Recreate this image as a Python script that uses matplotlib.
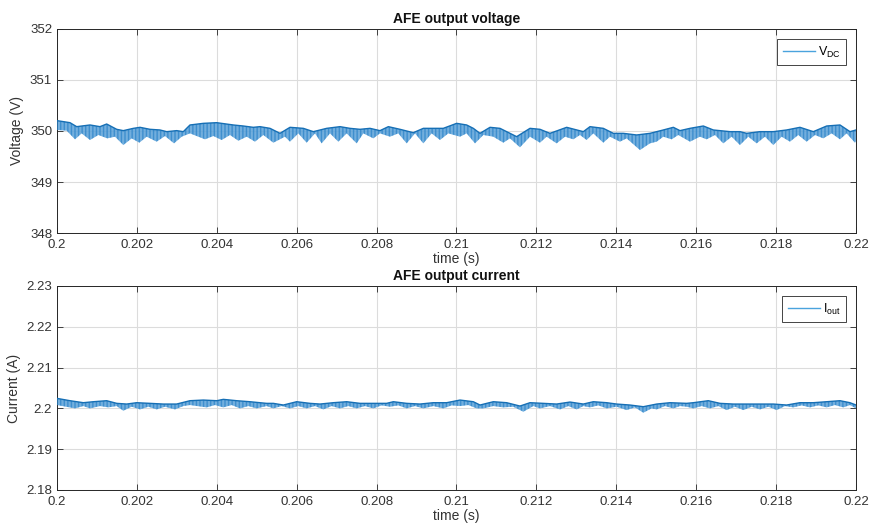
import numpy as np
import matplotlib
matplotlib.use("Agg")
import matplotlib.pyplot as plt
from matplotlib.lines import Line2D

plt.rcParams['font.family'] = ['Liberation Sans', 'DejaVu Sans']
plt.rcParams['hatch.linewidth'] = 0.6

T0 = 0.2
# ---------------- AFE output voltage (envelope) ----------
vdc_up_t_ms = [0.000,0.325,0.492,0.826,1.076,1.243,1.494,1.660,1.911,2.078,2.328,2.578,2.745,2.995,3.162,
               3.329,3.663,3.997,4.414,4.664,4.914,5.081,5.332,5.582,5.832,6.166,6.416,6.750,7.084,7.334,
               7.585,7.835,8.085,8.294,8.586,8.919,9.170,9.420,9.670,10.004,10.254,10.421,10.588,10.839,11.089,
               11.506,11.840,12.090,12.340,12.758,13.175,13.342,13.675,13.926,14.176,14.510,14.843,15.177,15.428,15.594,
               15.845,16.179,16.429,16.846,17.096,17.263,17.597,17.931,18.264,18.598,18.932,19.266,19.600,19.850,20.000]
vdc_up_v = [350.203,350.163,350.085,350.118,350.085,350.137,350.033,350.007,350.052,350.072,350.033,350.020,349.987,350.007,349.987,
            350.118,350.150,350.163,350.118,350.098,350.072,350.085,350.052,349.954,350.072,350.052,349.987,350.052,350.085,350.052,
            350.033,350.052,350.007,350.085,350.033,349.967,350.052,350.052,350.052,350.150,350.118,350.052,349.954,350.072,350.052,
            349.889,350.052,350.033,349.954,350.072,349.987,350.085,350.052,349.954,349.954,349.922,349.954,350.020,350.072,350.007,
            350.052,350.098,350.020,349.987,349.987,349.954,349.987,349.987,350.020,350.072,349.987,350.098,350.118,349.987,350.020]

vdc_lo_t_ms = [0.000,0.242,0.451,0.617,0.826,1.035,1.260,1.452,1.660,1.869,2.061,2.244,2.495,2.703,2.929,3.121,
               3.329,3.705,3.913,4.122,4.330,4.539,4.748,4.956,5.165,5.415,5.707,5.832,6.041,6.249,6.458,6.625,
               6.834,7.042,7.251,7.501,7.668,7.918,8.085,8.335,8.544,8.753,8.961,9.170,9.378,9.587,9.796,10.088,
               10.254,10.463,10.672,10.922,11.172,11.339,11.589,11.840,12.090,12.257,12.507,12.716,12.924,13.091,13.258,13.425,
               13.675,13.842,14.092,14.259,14.593,14.843,15.011,15.177,15.386,15.552,15.845,16.095,16.262,16.471,16.679,16.888,
               17.096,17.305,17.514,17.722,17.931,18.139,18.348,18.556,18.765,18.974,19.182,19.391,19.600,19.766,19.975,20.000]
vdc_lo_v = [350.020,350.007,349.837,349.954,349.824,349.922,349.856,349.889,349.725,349.856,349.771,349.889,349.791,349.902,349.758,349.889,
            349.954,349.837,349.902,349.824,349.922,349.810,349.889,349.791,349.922,349.771,349.889,349.791,349.954,349.771,349.954,349.758,
            349.954,349.791,349.954,349.758,349.954,349.856,349.954,349.889,349.954,349.758,349.954,349.758,349.954,349.824,349.954,349.889,
            349.954,349.758,349.922,349.889,349.771,349.856,349.680,349.889,349.771,349.889,349.758,349.889,349.837,349.922,349.824,349.954,
            349.771,349.889,349.791,349.856,349.627,349.758,349.791,349.889,349.837,349.922,349.791,349.889,349.837,349.922,349.758,349.889,
            349.725,349.889,349.758,349.889,349.725,349.889,349.791,349.922,349.791,349.922,349.856,349.954,349.837,349.954,349.771,349.800]

# ---------------- AFE output current (envelope) ----------
cur_up_t_ms = [0.000,0.325,0.659,0.909,1.243,1.494,1.744,1.994,2.328,2.662,2.995,3.329,3.663,3.997,4.163,4.497,4.831,
               5.248,5.415,5.666,5.999,6.333,6.583,6.917,7.251,7.585,7.918,8.252,8.419,8.753,9.086,9.420,9.754,
               10.088,10.421,10.588,10.922,11.256,11.589,11.840,12.174,12.507,12.841,13.175,13.425,13.759,14.009,14.343,14.676,
               15.011,15.344,15.761,15.928,16.304,16.596,16.929,17.263,17.597,17.931,18.264,18.598,18.932,19.266,19.600,19.850,20.000]
cur_up_v = [2.20245,2.20188,2.20139,2.20163,2.20188,2.20123,2.20106,2.20139,2.20123,2.20106,2.20106,2.20188,2.20204,2.20188,2.20221,2.20188,2.20163,
            2.20123,2.20123,2.20082,2.20163,2.20123,2.20106,2.20139,2.20163,2.20123,2.20123,2.20123,2.20163,2.20123,2.20106,2.20139,2.20139,
            2.20204,2.20163,2.20082,2.20163,2.20139,2.20057,2.20139,2.20123,2.20106,2.20155,2.20106,2.20163,2.20139,2.20106,2.20082,2.20041,
            2.20106,2.20139,2.20123,2.20139,2.20188,2.20123,2.20106,2.20106,2.20106,2.20106,2.20082,2.20139,2.20139,2.20163,2.20188,2.20139,2.20082]

cur_lo_t_ms = [0.000,0.451,0.659,0.826,1.076,1.285,1.494,1.660,1.869,2.078,2.286,2.495,2.703,2.954,3.162,3.329,3.747,3.955,
               4.163,4.372,4.581,4.789,4.998,5.248,5.415,5.624,5.832,6.041,6.249,6.458,6.667,6.875,7.084,7.292,7.501,7.710,
               7.918,8.127,8.335,8.544,8.753,8.961,9.170,9.420,9.670,9.879,10.088,10.296,10.505,10.672,10.922,11.172,11.422,11.673,
               11.923,12.090,12.340,12.591,12.799,13.008,13.175,13.342,13.550,13.759,14.009,14.259,14.468,14.676,14.885,15.011,15.219,15.428,
               15.594,15.761,15.928,16.137,16.345,16.554,16.763,16.971,17.180,17.389,17.597,17.806,18.014,18.223,18.431,18.640,18.848,19.057,
               19.266,19.474,19.683,19.850,20.000]
cur_lo_v = [2.20082,2.20000,2.20057,2.20000,2.20057,2.20025,2.20057,2.19943,2.20041,2.19975,2.20041,2.19975,2.20041,2.19975,2.20057,2.20082,2.20025,2.20082,
            2.20025,2.20082,2.20000,2.20057,2.20000,2.20057,2.20000,2.20057,2.20000,2.20057,2.20000,2.20057,2.19975,2.20057,2.20000,2.20057,2.20000,2.20057,
            2.20000,2.20074,2.20041,2.20074,2.20000,2.20057,2.20000,2.20057,2.20000,2.20074,2.20057,2.20082,2.20000,2.20000,2.20057,2.20025,2.20041,2.19918,
            2.20057,2.20000,2.20057,2.19975,2.20057,2.19975,2.20057,2.20025,2.20074,2.20000,2.20041,2.19959,2.20025,2.19894,2.20000,2.19975,2.20057,2.20000,
            2.20057,2.20041,2.20000,2.20057,2.20000,2.20057,2.19959,2.20041,2.19959,2.20041,2.19975,2.20041,2.19959,2.20057,2.20025,2.20074,2.20025,2.20074,
            2.20025,2.20082,2.20025,2.20082,2.20000]

x_ticks = [0.2, 0.202, 0.204, 0.206, 0.208, 0.21, 0.212, 0.214, 0.216, 0.218, 0.22]
x_ticklabels = ['0.2', '0.202', '0.204', '0.206', '0.208', '0.21', '0.212', '0.214', '0.216', '0.218', '0.22']
v_ticks = [348, 349, 350, 351, 352]
i_ticks = [2.18, 2.19, 2.2, 2.21, 2.22, 2.23]
i_ticklabels = ['2.18', '2.19', '2.2', '2.21', '2.22', '2.23']

FILL = '#99c8ec'
HATCH = '#2a82c8'
TOP = '#166fb5'
LEG = '#4aa3dd'
AXC = '#262626'

fig = plt.figure(figsize=(8.73, 5.28), dpi=100)
ax1 = fig.add_axes([0.0653, 0.5587, 0.9152, 0.3864])
ax2 = fig.add_axes([0.0653, 0.0720, 0.9152, 0.3864])


def band(ax, ut, uv, lt, lv):
    ut = T0 + np.asarray(ut) / 1000.0
    lt = T0 + np.asarray(lt) / 1000.0
    px = np.concatenate([ut, lt[::-1]])
    py = np.concatenate([uv, lv[::-1]])
    ax.fill(px, py, facecolor=FILL, edgecolor='none', alpha=0.8, zorder=2)
    ax.fill(px, py, facecolor='none', edgecolor=HATCH, lw=0, hatch='|' * 12, zorder=3)
    ax.plot(ut, uv, color=TOP, lw=1.0, zorder=4)


def style(ax, title, ylabel, yticks, ylabels, leglabel):
    ax.set_xlim(0.2, 0.22)
    ax.set_xticks(x_ticks)
    ax.set_xticklabels(x_ticklabels)
    ax.set_yticks(yticks)
    if ylabels is not None:
        ax.set_yticklabels(ylabels)
    ax.grid(True, color='#dcdcdc', lw=0.8, zorder=0)
    ax.set_axisbelow(True)
    ax.tick_params(direction='in', length=4, width=0.6, colors=AXC, labelsize=9.5,
                   top=True, right=True, labelcolor='#333333')
    ax.tick_params(axis='x', pad=4)
    for s in ax.spines.values():
        s.set_color(AXC)
        s.set_linewidth(0.7)
    ax.set_title(title, fontsize=10, fontweight='bold', color='#111111', pad=4)
    ax.set_xlabel('time (s)', fontsize=10, color='#333333', labelpad=1)
    ax.set_ylabel(ylabel, fontsize=10, color='#333333', labelpad=4)
    h = Line2D([], [], color=LEG, lw=1.0)
    leg = ax.legend([h], [leglabel], loc='upper right', fancybox=False, framealpha=1,
                    edgecolor=AXC, fontsize=9, handlelength=2.6, borderaxespad=0.8,
                    handletextpad=0.2, borderpad=0.45)
    leg.get_frame().set_linewidth(0.6)


band(ax1, vdc_up_t_ms, vdc_up_v, vdc_lo_t_ms, vdc_lo_v)
ax1.set_ylim(348, 352)
style(ax1, 'AFE output voltage', 'Voltage (V)', v_ticks, None, r'$\mathregular{V_{DC}}$')

band(ax2, cur_up_t_ms, cur_up_v, cur_lo_t_ms, cur_lo_v)
ax2.set_ylim(2.18, 2.23)
style(ax2, 'AFE output current', 'Current (A)', i_ticks, i_ticklabels, r'$\mathregular{I_{out}}$')

fig.savefig('out.png', dpi=100)
